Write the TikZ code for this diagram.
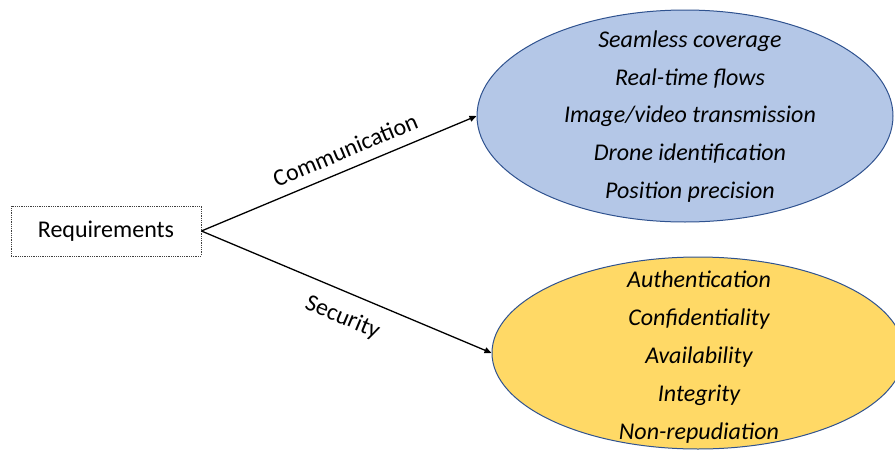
\documentclass[tikz,border=0pt]{standalone}
\usepackage{fontspec}
\setmainfont{Carlito}
\usetikzlibrary{shapes.geometric,arrows.meta}
\definecolor{commfill}{RGB}{180,199,231}
\definecolor{secfill}{RGB}{255,217,102}
\definecolor{rimline}{RGB}{47,82,143}
\tikzset{
  reqbox/.style={draw=black!75, line width=0.8pt, dash pattern=on 1pt off 0.8pt,
    fill=white, minimum width=190pt, minimum height=50pt, inner sep=0pt,
    font=\fontsize{24}{28}\selectfont},
  bubble/.style={ellipse, draw=rimline, line width=1pt, inner sep=0pt},
  itemlist/.style={align=center, font=\fontsize{24}{37.8}\selectfont\itshape},
  flow/.style={-{Triangle[length=7pt,width=6pt]}, line width=1.3pt, black},
  flowlabel/.style={font=\fontsize{24}{28}\selectfont, sloped}
}
\begin{document}
\begin{tikzpicture}[x=1pt, y=-1pt]
\useasboundingbox (0,0) rectangle (895,450);

\node[reqbox] (req) at (106,231) {Requirements};

\node[bubble, fill=commfill, minimum width=416pt, minimum height=212pt] (comm) at (685,116) {};
\node[itemlist] (commtext) at (690,116.5) {Seamless coverage\\Real-time flows\\Image/video transmission\\Drone identification\\Position precision};

\node[bubble, fill=secfill, minimum width=412pt, minimum height=192pt] (sec) at (698,353) {};
\node[itemlist] (sectext) at (699,357) {Authentication\\Confidentiality\\Availability\\Integrity\\Non-repudiation};

\draw[flow] (req.east) -- node[flowlabel, pos=0.55, above=7pt] {Communication} (comm.west);
\draw[flow] (req.east) -- node[flowlabel, pos=0.52, below=11pt] {Security} (sec.west);
\end{tikzpicture}
\end{document}
